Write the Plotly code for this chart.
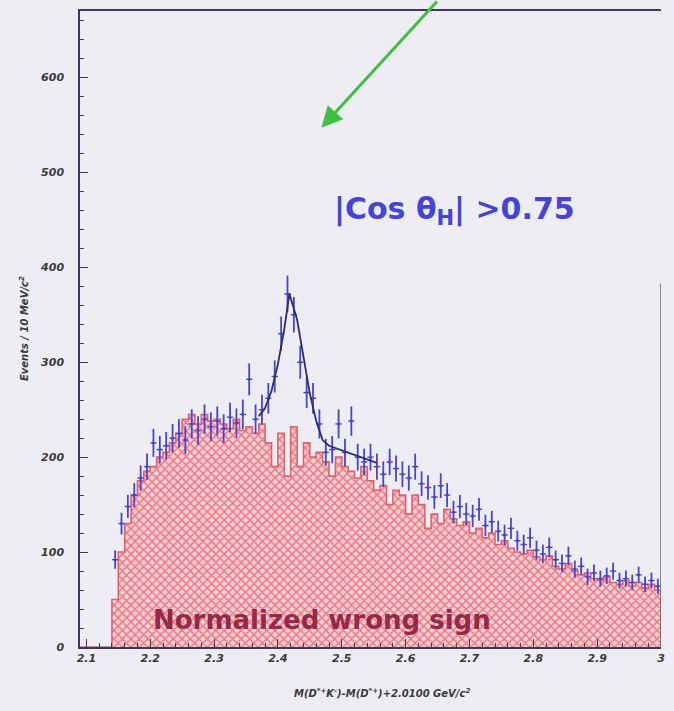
import numpy as np
import plotly.graph_objects as go

# Bin layout: 10 MeV bins starting at 2.09 GeV
bin_lo = 2.09
bin_w = 0.01

# Right-sign candidates (events / 10 MeV), bins from 2.14 to 3.00
data_start = 2.14
data_counts = [
    92, 130, 148, 160, 178, 190, 215, 208, 212, 220,
    225, 218, 235, 228, 240, 232, 238, 230, 242, 236,
    245, 282, 240, 250, 262, 285, 330, 372, 350, 300,
    268, 262, 235, 205, 208, 235, 205, 238, 200, 195,
    200, 190, 182, 195, 188, 182, 178, 190, 172, 168,
    158, 170, 160, 142, 148, 140, 138, 145, 128, 132,
    122, 118, 125, 112, 108, 115, 102, 98, 105, 92,
    88, 96, 82, 85, 74, 78, 72, 75, 80, 70,
    72, 68, 76, 66, 70, 64,
]

# Normalized wrong-sign histogram, bins from 2.09 to 3.00
wrong_sign = [
    0, 0, 0, 0, 0,
    50, 100, 130, 160, 175, 185, 190, 200, 205, 215,
    225, 240, 245, 235, 245, 238, 240, 235, 230, 240,
    228, 232, 225, 235, 215, 190, 225, 180, 232, 190,
    215, 200, 205, 195, 180, 200, 190, 185, 178, 190,
    175, 165, 170, 150, 165, 160, 140, 160, 150, 125,
    140, 130, 145, 135, 128, 132, 120, 125, 115, 120,
    108, 112, 104, 100, 98, 102, 95, 92, 96, 85,
    82, 88, 80, 76, 78, 72, 70, 74, 68, 66,
    70, 64, 68, 62, 66, 60,
]

# Fitted signal + background curve over the peak region
fit_x = [2.37, 2.38, 2.39, 2.40, 2.41, 2.418, 2.43, 2.44, 2.45, 2.46,
         2.47, 2.48, 2.50, 2.52, 2.555]
fit_y = [243, 252, 270, 298, 335, 372, 345, 305, 267, 238,
         218, 212, 207, 202, 194]

y_ticks = [0, 100, 200, 300, 400, 500, 600]
x_ticks = [2.1, 2.2, 2.3, 2.4, 2.5, 2.6, 2.7, 2.8, 2.9, 3.0]
x_tick_text = ["2.1", "2.2", "2.3", "2.4", "2.5", "2.6", "2.7", "2.8", "2.9", "3"]

bg = "#eeedf4"
ws_x = bin_lo + bin_w * (np.arange(len(wrong_sign)) + 0.5)
d_x = data_start + bin_w * (np.arange(len(data_counts)) + 0.5)
d_y = np.array(data_counts, dtype=float)
d_err = np.sqrt(d_y)

# outline of the wrong-sign histogram as a step line
edges = bin_lo + bin_w * np.arange(len(wrong_sign) + 1)
step_y = list(wrong_sign) + [wrong_sign[-1]]

fig = go.Figure()
fig.add_trace(go.Bar(
    x=ws_x, y=wrong_sign, width=bin_w,
    marker=dict(
        color="#f6c2c6",
        line=dict(width=0),
        pattern=dict(shape="x", fgcolor="#ee7a86", bgcolor="#f9d4d6",
                     size=6, solidity=0.45, fillmode="replace"),
    ),
    hoverinfo="skip",
))
fig.add_trace(go.Scatter(
    x=edges, y=step_y, mode="lines", line_shape="hv",
    line=dict(color="#e2606e", width=1.6), hoverinfo="skip",
))
fig.add_trace(go.Scatter(
    x=d_x, y=d_y, mode="markers",
    marker=dict(color="#4545d4", size=3),
    error_y=dict(type="data", array=d_err, color="#4545d4", thickness=1.8, width=0),
    error_x=dict(type="constant", value=bin_w / 2, color="#4545d4", thickness=1.3, width=0),
))
fig.add_trace(go.Scatter(
    x=fit_x, y=fit_y, mode="lines",
    line=dict(color="#2c2c6e", width=1.8), hoverinfo="skip",
))

axis_col = "#3a3a5a"
tick_font = dict(family="DejaVu Sans", size=11, color="#3a3a3a", style="italic", weight="bold")
fig.update_layout(
    width=674, height=711,
    margin=dict(l=80, r=9, t=11, b=64),
    paper_bgcolor=bg, plot_bgcolor=bg,
    showlegend=False, bargap=0,
    font=dict(family="DejaVu Sans", color="#333"),
    xaxis=dict(
        range=[2.09, 3.0], tickvals=x_ticks, ticktext=x_tick_text,
        ticks="inside", ticklen=8, tickcolor=axis_col, showgrid=False,
        zeroline=False, showline=True, linecolor=axis_col, linewidth=1.5,
        mirror=True, tickfont=tick_font,
        minor=dict(ticks="inside", ticklen=4, dtick=0.02, tickcolor=axis_col),
    ),
    yaxis=dict(
        range=[0, 670], tickvals=y_ticks,
        ticks="inside", ticklen=8, tickcolor=axis_col, showgrid=False,
        zeroline=False, showline=True, linecolor=axis_col, linewidth=1.5,
        tickfont=tick_font, ticklabelstandoff=12,
        minor=dict(ticks="inside", ticklen=4, dtick=20, tickcolor=axis_col),
    ),
    shapes=[
        dict(type="line", xref="x", yref="y", x0=3.0, x1=3.0, y0=0, y1=383,
             line=dict(color="#666", width=1.5)),
    ],
    annotations=[
        dict(text="|Cos θ<sub>H</sub>| >0.75", xref="paper", yref="paper",
             x=0.645, y=0.72, showarrow=False,
             font=dict(family="DejaVu Sans", size=30, color="#4444dc", weight="bold")),
        dict(text="Normalized wrong sign", xref="paper", yref="paper",
             x=0.417, y=0.015, showarrow=False,
             font=dict(family="DejaVu Sans", size=26, color="#962848", weight="bold")),
        dict(text="Events / 10 MeV/c<sup>2</sup>", xref="paper", yref="paper",
             x=-0.11, y=0.5, textangle=-90, showarrow=False,
             font=dict(size=10, color="#3a3a3a", style="italic", weight="bold")),
        dict(text="M(D<sup>*+</sup>K<sup>-</sup>)-M(D<sup>*+</sup>)+2.0100 GeV/c<sup>2</sup>",
             xref="paper", yref="paper", x=0.52, y=-0.085, showarrow=False,
             font=dict(size=10, color="#3a3a3a", style="italic", weight="bold")),
        dict(text="", x=2.468, y=547, xref="x", yref="y",
             ax=117, ay=-135, showarrow=True, arrowhead=2, arrowsize=1.4,
             arrowwidth=3, arrowcolor="#40bf40"),
    ],
)

fig.write_html("out.html")
